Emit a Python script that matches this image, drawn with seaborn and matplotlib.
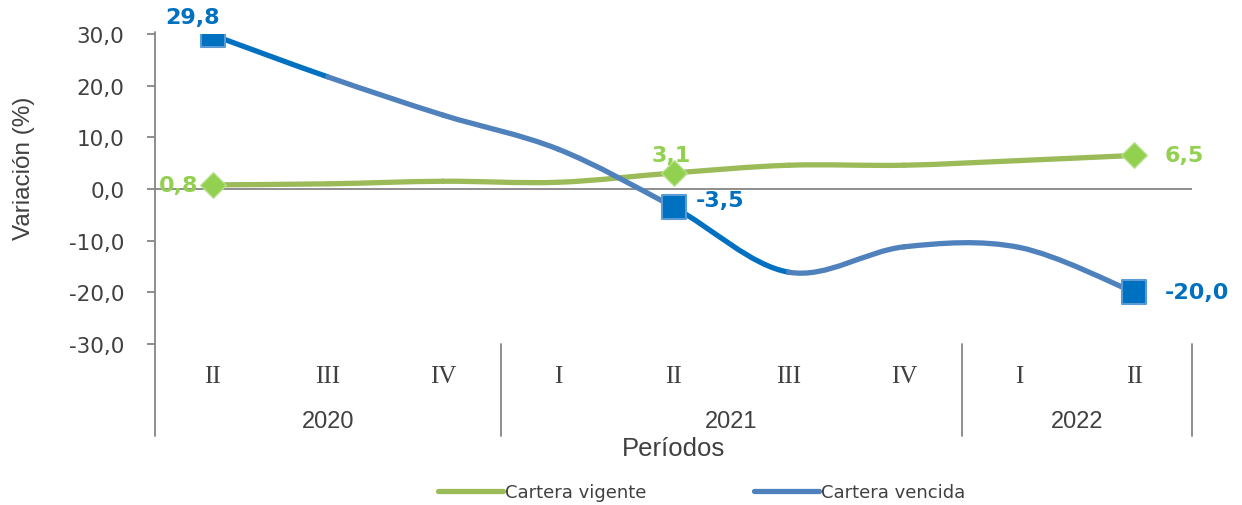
import numpy as np
import pandas as pd
import matplotlib
matplotlib.use("Agg")
import matplotlib.pyplot as plt
from matplotlib.path import Path
from matplotlib.patches import PathPatch
from matplotlib.lines import Line2D
import seaborn as sns

# datos
trimestres = ["II", "III", "IV", "I", "II", "III", "IV", "I", "II"]
anios = ["2020", "2021", "2022"]
trim_por_anio = [3, 4, 2]
vigente = [0.8, 1.0, 1.5, 1.3, 3.1, 4.6, 4.6, 5.5, 6.5]
vencida = [29.8, 21.7, 14.3, 7.7, -3.5, -16.1, -11.2, -11.3, -20.0]
etiquetados = [0, 4, 8]
yticks = [-30, -20, -10, 0, 10, 20, 30]

VERDE_LINEA = "#9BBB59"
VERDE = "#92D050"
AZUL_LINEA = "#4F81BD"
AZUL = "#0070C0"
GRIS = "#868686"
TEXTO = "#404040"
ANGOSTA = ["Liberation Sans Narrow", "Liberation Sans", "DejaVu Sans"]


def segmentos_suaves(x, y):
    # curva suavizada tipo Excel (Bezier con tangentes Catmull-Rom)
    p = np.column_stack([x, y]).astype(float)
    n = len(p)
    segs = []
    for i in range(n - 1):
        p0 = p[i - 1] if i > 0 else p[i]
        p3 = p[i + 2] if i + 2 < n else p[i + 1]
        c1 = p[i] + (p[i + 1] - p0) / 6.0
        c2 = p[i + 1] - (p3 - p[i]) / 6.0
        segs.append(Path([p[i], c1, c2, p[i + 1]],
                         [Path.MOVETO, Path.CURVE4, Path.CURVE4, Path.CURVE4]))
    return segs


sns.set_style("white")
plt.rcParams["font.family"] = ["DejaVu Sans"]

fig = plt.figure(figsize=(12.42, 5.06), dpi=100)
ax = fig.add_axes([155 / 1242, 1 - 345 / 506, (1192 - 155) / 1242, 310 / 506])

x = np.arange(len(trimestres))

for i, seg in enumerate(segmentos_suaves(x, vigente)):
    ax.add_patch(PathPatch(seg, facecolor="none", edgecolor=VERDE_LINEA,
                           lw=3.8, capstyle="round", zorder=3))
for i, seg in enumerate(segmentos_suaves(x, vencida)):
    col = AZUL if i in etiquetados else AZUL_LINEA
    ax.add_patch(PathPatch(seg, facecolor="none", edgecolor=col,
                           lw=3.8, capstyle="round", zorder=3))

marcas = pd.DataFrame({
    "x": [x[i] for i in etiquetados],
    "vigente": [vigente[i] for i in etiquetados],
    "vencida": [vencida[i] for i in etiquetados],
})
sns.scatterplot(data=marcas, x="x", y="vigente", marker="D", s=170,
                color=VERDE, edgecolor="#B5E08A", linewidth=1, ax=ax, zorder=5)
sns.scatterplot(data=marcas, x="x", y="vencida", marker="s", s=300,
                color=AZUL, edgecolor="#5B9BD5", linewidth=1.5, ax=ax, zorder=6)
ax.set_xlabel("")
ax.set_ylabel("")

# etiquetas de datos
def fmt(v):
    return f"{v:.1f}".replace(".", ",")

kw = dict(fontsize=16, fontweight="bold", zorder=7)
ax.annotate(fmt(vencida[0]), (x[0], vencida[0]), xytext=(5, 6),
            textcoords="offset points", ha="right", va="bottom", color=AZUL, **kw)
ax.annotate(fmt(vigente[0]), (x[0], vigente[0]), xytext=(-10, 0),
            textcoords="offset points", ha="right", va="center", color=VERDE, **kw)
ax.annotate(fmt(vigente[4]), (x[4], vigente[4]), xytext=(-2, 6),
            textcoords="offset points", ha="center", va="bottom", color=VERDE, **kw)
ax.annotate(fmt(vencida[4]), (x[4], vencida[4]), xytext=(16, 5),
            textcoords="offset points", ha="left", va="center", color=AZUL, **kw)
ax.annotate(fmt(vigente[8]), (x[8], vigente[8]), xytext=(22, 0),
            textcoords="offset points", ha="left", va="center", color=VERDE, **kw)
ax.annotate(fmt(vencida[8]), (x[8], vencida[8]), xytext=(22, 0),
            textcoords="offset points", ha="left", va="center", color=AZUL, **kw)

ax.set_xlim(-0.5, len(trimestres) - 0.5)
ax.set_ylim(-30, 30)
ax.axhline(0, color=GRIS, lw=1.3, zorder=2)

for s in ["top", "right", "bottom", "left"]:
    ax.spines[s].set_visible(False)
ax.set_yticks(yticks)
ax.set_yticklabels([fmt(v) for v in yticks], fontsize=15.5, color=TEXTO)
ax.tick_params(axis="y", length=6, width=1.3, color=GRIS, direction="out",
               left=True, pad=16)
ax.set_xticks([])

# eje izquierdo largo y separadores de categorias
trans = ax.get_xaxis_transform()
ax.plot([-0.5, -0.5], [-0.297, 1.006], transform=trans, color=GRIS, lw=1.3,
        clip_on=False, zorder=4)
borde = -0.5
for n in trim_por_anio:
    borde += n
    ax.plot([borde, borde], [-0.297, 0], transform=trans, color=GRIS, lw=1.3,
            clip_on=False)

for xi, t in zip(x, trimestres):
    ax.text(xi, -0.103, t, transform=trans, ha="center", va="center",
            fontsize=18, color=TEXTO, family=["Liberation Serif", "DejaVu Serif"])

inicio = 0
for a, n in zip(anios, trim_por_anio):
    centro = inicio + (n - 1) / 2
    ax.text(centro, -0.248, a, transform=trans, ha="center", va="center",
            fontsize=17, color=TEXTO, family=ANGOSTA)
    inicio += n

ax.text(0.5, -0.335, "Períodos", transform=ax.transAxes, ha="center",
        va="center", fontsize=18.5, color=TEXTO, family=ANGOSTA)
fig.text(24 / 1242, 1 - 168 / 506, "Variación (%)", rotation=90, ha="center",
         va="center", fontsize=17.5, color=TEXTO, family=ANGOSTA)

handles = [Line2D([], [], color=VERDE_LINEA, lw=3.8),
           Line2D([], [], color=AZUL_LINEA, lw=3.8)]
fig.legend(handles, ["Cartera vigente", "Cartera vencida"], loc="center",
           bbox_to_anchor=(0.565, 1 - 493 / 506), ncol=2, frameon=False,
           fontsize=13, handlelength=3.6, handletextpad=0.1,
           columnspacing=6, labelcolor=TEXTO)

fig.savefig("out.png", dpi=100)
